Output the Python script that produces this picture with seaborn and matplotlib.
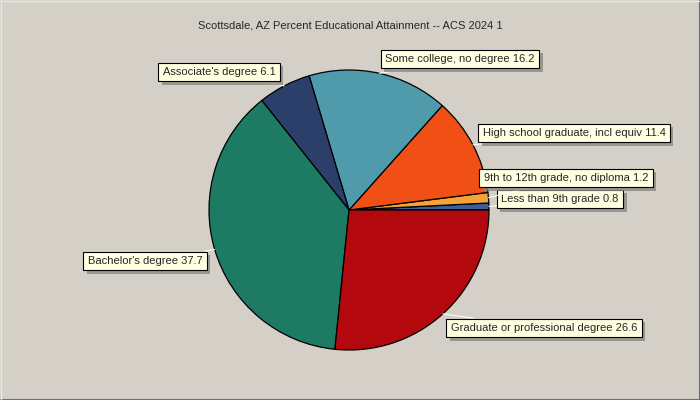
import numpy as np
import matplotlib
matplotlib.use("Agg")
import matplotlib.pyplot as plt
import matplotlib.patheffects as pe
from matplotlib.lines import Line2D
import seaborn as sns

categories = ["Less than 9th grade", "9th to 12th grade, no diploma",
              "High school graduate, incl equiv", "Some college, no degree",
              "Associate's degree", "Bachelor's degree",
              "Graduate or professional degree"]
values = [0.8, 1.2, 11.4, 16.2, 6.1, 37.7, 26.6]
colors = ["#3a5e9e", "#f5a236", "#f04f16", "#4f9bac", "#2c3f6b", "#1e7b63", "#b4080f"]
# label box centres in figure pixels (layout only)
label_pos = [(560, 199), (566, 178), (574, 133), (460, 59), (219, 72), (145, 261), (544, 328)]

sns.set_style("white")
plt.rcParams["font.family"] = ["Liberation Sans", "DejaVu Sans"]

W, H = 700, 400
fig = plt.figure(figsize=(7, 4), dpi=100)
fig.patch.set_facecolor("#d4d0c8")

# 3d-ish window border
fig.add_artist(Line2D([0, 1], [0.5 / H, 0.5 / H], transform=fig.transFigure, color="#6e6e6e", lw=1.5))
fig.add_artist(Line2D([1 - 0.5 / W, 1 - 0.5 / W], [0, 1], transform=fig.transFigure, color="#6e6e6e", lw=1.5))
fig.add_artist(Line2D([0, 1], [1 - 0.5 / H, 1 - 0.5 / H], transform=fig.transFigure, color="#e8e6e0", lw=1))
fig.add_artist(Line2D([0.5 / W, 0.5 / W], [0, 1], transform=fig.transFigure, color="#e8e6e0", lw=1))

ax = fig.add_axes([(349 - 140) / W, (400 - 350) / H, 280 / W, 280 / H])
wedges, _ = ax.pie(values, colors=colors, startangle=0, counterclock=True,
                   radius=1, wedgeprops=dict(edgecolor="black", linewidth=0.9))
ax.set_xlim(-1, 1)
ax.set_ylim(-1, 1)
ax.set_axis_off()

fig.text(0.5, 1 - 25 / H, "Scottsdale, AZ Percent Educational Attainment -- ACS 2024 1",
         ha="center", va="center", fontsize=8)

for w, cat, val, (px, py) in zip(wedges, categories, values, label_pos):
    ang = np.deg2rad((w.theta1 + w.theta2) / 2)
    edge = (np.cos(ang), np.sin(ang))
    t = ax.annotate(f"{cat} {val}", xy=edge, xycoords="data",
                    xytext=(px / W, 1 - py / H), textcoords="figure fraction",
                    ha="center", va="center", fontsize=8,
                    bbox=dict(boxstyle="square,pad=0.4", fc="#ffffe1", ec="black", lw=0.8),
                    arrowprops=dict(arrowstyle="-", color="white", lw=0.8,
                                    shrinkA=0, shrinkB=0))
    t.get_bbox_patch().set_path_effects([
        pe.SimplePatchShadow(offset=(2.5, -2.5), shadow_rgbFace="#8a8884", alpha=0.8),
        pe.Normal()])

fig.savefig("out.png", dpi=100, facecolor=fig.get_facecolor())
